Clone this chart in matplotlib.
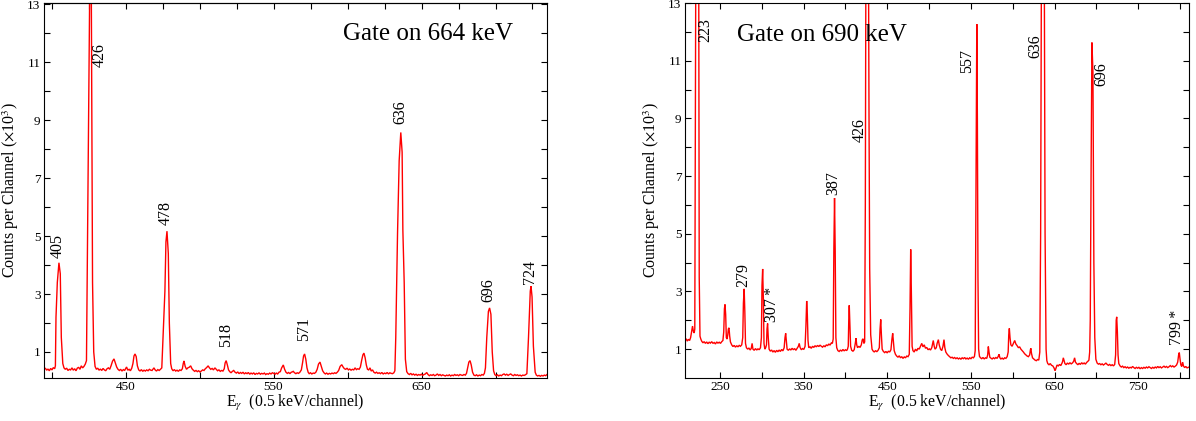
import matplotlib
matplotlib.use("Agg")
import matplotlib.pyplot as plt
from matplotlib.ticker import FixedLocator, NullFormatter

plt.rcParams['font.family'] = ['Liberation Serif', 'DejaVu Serif']
plt.rcParams['mathtext.fontset'] = 'stix'

# Coincidence spectra: (energy in keV, counts per channel in units of 10^3)
gate664_spectrum = [
    (394.9, 0.40), (395.8, 0.44), (396.7, 0.37), (397.6, 0.41), (398.5, 0.35), (399.4, 0.43), (400.3, 0.38),
    (401.2, 0.46), (402.1, 0.42), (402.6, 0.52),
    (403.0, 2.2), (403.9, 3.4), (405.0, 4.08), (405.9, 3.7), (406.6, 1.5), (407.6, 0.6),
    (408.4, 0.45), (409.3, 0.40), (410.2, 0.44), (411.1, 0.36), (412.0, 0.40), (412.9, 0.38), (413.8, 0.45),
    (414.7, 0.37), (415.6, 0.42), (416.5, 0.35), (417.4, 0.44), (418.3, 0.47), (419.2, 0.40), (420.1, 0.52),
    (421.0, 0.45), (421.9, 0.50), (422.8, 0.58), (423.6, 0.70),
    (424.2, 4.1), (424.8, 7.9), (425.5, 11.8), (426.1, 15.5), (426.7, 15.5), (427.1, 10.6), (427.7, 3.4),
    (428.5, 1.0), (429.4, 0.50),
    (430.3, 0.40), (431.2, 0.44), (432.1, 0.37), (433.0, 0.41), (433.9, 0.36), (434.8, 0.43), (435.7, 0.38),
    (436.6, 0.35), (437.5, 0.42), (438.4, 0.45), (439.3, 0.40), (440.2, 0.52), (441.2, 0.68), (442.2, 0.76),
    (443.1, 0.62), (444.0, 0.48), (444.9, 0.40), (445.8, 0.36), (446.7, 0.40), (447.6, 0.34), (448.5, 0.39),
    (449.4, 0.36), (450.0, 0.42), (450.7, 0.48), (451.5, 0.37), (452.4, 0.40), (453.3, 0.35), (454.2, 0.44),
    (455.0, 0.60), (455.7, 0.86), (456.4, 0.93), (457.2, 0.84), (458.0, 0.52), (458.9, 0.38), (459.8, 0.34),
    (460.7, 0.39), (461.6, 0.33), (462.5, 0.37), (463.4, 0.34), (464.3, 0.38), (465.2, 0.35), (466.1, 0.40),
    (467.0, 0.37), (467.9, 0.36), (468.6, 0.41), (469.2, 0.45), (470.0, 0.38), (470.9, 0.34), (471.8, 0.39),
    (472.7, 0.36), (473.6, 0.40), (474.5, 0.45),
    (475.7, 2.0), (476.6, 3.1), (477.3, 4.8), (478.0, 5.17), (478.9, 4.4), (479.6, 2.0), (480.5, 0.6),
    (481.2, 0.42), (482.1, 0.35), (483.0, 0.39), (483.9, 0.34), (484.8, 0.37), (485.7, 0.33), (486.6, 0.38),
    (487.5, 0.36), (488.4, 0.42), (489.0, 0.60), (489.5, 0.69), (490.3, 0.50), (491.2, 0.40), (492.1, 0.45),
    (493.0, 0.47), (494.0, 0.52), (494.9, 0.42), (495.8, 0.37), (496.7, 0.33), (497.6, 0.36), (498.5, 0.32),
    (499.4, 0.35), (500.3, 0.31), (501.2, 0.34), (502.1, 0.38), (503.0, 0.36), (503.9, 0.42), (504.8, 0.46),
    (505.8, 0.52), (506.7, 0.45), (507.6, 0.40), (508.5, 0.43), (509.4, 0.38), (510.4, 0.45), (511.3, 0.40),
    (512.2, 0.35), (513.1, 0.38), (514.0, 0.33), (514.9, 0.36), (515.8, 0.34), (516.7, 0.42), (517.3, 0.62),
    (518.0, 0.70), (518.8, 0.55), (519.6, 0.38), (520.4, 0.32), (521.3, 0.28), (522.2, 0.33), (523.1, 0.36),
    (524.0, 0.30), (524.9, 0.27), (525.8, 0.31), (526.7, 0.25), (527.6, 0.29), (528.5, 0.26), (529.4, 0.30),
    (530.3, 0.24), (531.2, 0.28), (532.1, 0.25), (533.0, 0.29), (533.9, 0.23), (534.8, 0.27), (535.7, 0.24),
    (536.6, 0.28), (537.5, 0.22), (538.4, 0.26), (539.3, 0.24), (540.2, 0.28), (541.1, 0.23), (542.0, 0.26),
    (542.9, 0.24), (543.8, 0.27), (544.7, 0.22), (545.6, 0.25), (546.5, 0.23), (547.4, 0.27), (548.3, 0.24),
    (549.2, 0.28), (550.1, 0.26), (551.0, 0.23), (551.9, 0.27), (552.8, 0.24), (553.7, 0.30), (554.6, 0.32),
    (555.5, 0.45), (556.6, 0.55), (557.5, 0.40), (558.4, 0.30), (559.3, 0.26), (560.2, 0.29), (561.1, 0.25),
    (562.0, 0.30), (562.7, 0.31), (563.3, 0.33), (564.2, 0.28), (565.1, 0.25), (566.0, 0.28), (566.9, 0.26),
    (567.8, 0.30), (568.8, 0.38), (569.6, 0.62), (570.3, 0.86), (571.0, 0.93), (571.8, 0.75), (572.6, 0.45),
    (573.4, 0.30), (574.1, 0.25), (575.0, 0.28), (575.9, 0.24), (576.8, 0.27), (577.7, 0.26), (578.6, 0.30),
    (579.5, 0.40), (580.4, 0.58), (581.4, 0.65), (582.3, 0.50), (583.2, 0.35), (584.1, 0.28), (585.0, 0.24),
    (585.9, 0.27), (586.8, 0.23), (587.7, 0.26), (588.6, 0.24), (589.5, 0.27), (590.4, 0.25), (591.3, 0.28),
    (592.2, 0.26), (593.1, 0.30), (594.0, 0.36), (595.0, 0.50), (596.1, 0.56), (597.0, 0.48), (597.9, 0.42),
    (598.8, 0.40), (599.7, 0.44), (600.6, 0.38), (601.5, 0.41), (602.4, 0.37), (603.3, 0.40), (604.2, 0.38),
    (605.1, 0.45), (606.0, 0.39), (606.9, 0.42), (607.8, 0.40), (608.7, 0.48), (609.6, 0.72), (610.4, 0.90),
    (611.1, 0.96), (611.9, 0.80), (612.7, 0.55), (613.5, 0.40), (614.3, 0.38), (615.2, 0.45), (616.0, 0.34),
    (616.9, 0.38), (617.8, 0.30), (618.7, 0.27), (619.6, 0.30), (620.5, 0.26), (621.4, 0.28), (622.3, 0.25),
    (623.2, 0.29), (624.1, 0.24), (625.0, 0.27), (625.9, 0.25), (626.8, 0.29), (627.7, 0.24), (628.6, 0.28),
    (629.5, 0.26), (630.4, 0.25), (631.3, 0.28), (632.0, 0.35),
    (632.6, 1.5), (633.8, 5.1), (634.9, 7.6), (636.0, 8.58), (636.9, 7.9), (637.4, 5.2), (638.3, 3.4),
    (639.1, 0.75), (640.0, 0.32),
    (640.9, 0.25), (641.8, 0.22), (642.7, 0.26), (643.6, 0.21), (644.5, 0.24), (645.4, 0.20), (646.3, 0.23),
    (647.2, 0.19), (648.1, 0.22), (649.0, 0.20), (649.9, 0.23), (650.8, 0.19), (651.7, 0.22), (652.6, 0.24),
    (653.5, 0.29), (654.4, 0.22), (655.3, 0.18), (656.2, 0.21), (657.1, 0.19), (658.0, 0.22), (658.9, 0.18),
    (659.8, 0.20), (660.7, 0.24), (661.6, 0.19), (662.5, 0.22), (663.4, 0.18), (664.3, 0.21), (665.2, 0.19),
    (666.1, 0.17), (667.0, 0.20), (667.9, 0.18), (668.8, 0.21), (669.7, 0.17), (670.6, 0.20), (671.5, 0.18),
    (672.4, 0.22), (673.3, 0.19), (674.2, 0.21), (675.1, 0.18), (676.0, 0.22), (676.9, 0.20), (677.8, 0.19),
    (678.7, 0.22), (679.6, 0.20), (680.4, 0.26), (681.2, 0.45), (682.0, 0.65), (682.8, 0.70), (683.6, 0.55),
    (684.5, 0.30), (685.4, 0.20), (686.3, 0.18), (687.2, 0.21), (688.1, 0.17), (689.0, 0.20), (689.9, 0.18),
    (690.8, 0.22), (691.7, 0.20), (692.5, 0.26), (693.2, 0.45),
    (694.1, 1.5), (695.2, 2.4), (696.0, 2.52), (696.9, 2.3), (697.8, 1.0), (698.7, 0.35),
    (699.5, 0.22), (700.4, 0.18), (701.3, 0.21), (702.2, 0.17), (703.1, 0.20), (704.0, 0.18), (704.9, 0.22),
    (705.8, 0.24), (706.7, 0.20), (707.6, 0.23), (708.5, 0.19), (709.4, 0.22), (710.3, 0.24), (711.2, 0.20),
    (712.1, 0.18), (713.0, 0.22), (713.9, 0.19), (714.8, 0.21), (715.7, 0.18), (716.6, 0.20), (717.5, 0.17),
    (718.4, 0.20), (719.3, 0.19), (720.2, 0.21), (721.2, 0.25),
    (722.3, 1.5), (723.5, 3.1), (724.0, 3.27), (724.7, 2.9), (725.6, 1.2), (726.8, 0.30),
    (727.6, 0.20), (728.5, 0.17), (729.4, 0.19), (730.3, 0.16), (731.2, 0.19), (732.1, 0.17), (733.0, 0.20),
    (733.9, 0.18), (734.8, 0.22),
]

gate690_spectrum = [
    (208.3, 1.30), (209.6, 1.36), (211.0, 1.28), (212.4, 1.34), (213.8, 1.30), (215.0, 1.40), (216.0, 1.58),
    (217.3, 1.80), (218.3, 1.62), (219.3, 1.56), (220.0, 1.70),
    (220.6, 8.6), (221.4, 16.0), (224.6, 16.0), (225.3, 3.5), (226.2, 1.45),
    (227.2, 1.35), (228.2, 1.28), (229.7, 1.22), (231.2, 1.26), (232.7, 1.20), (234.2, 1.25), (235.7, 1.19),
    (237.2, 1.24), (238.7, 1.21), (240.2, 1.26), (241.7, 1.20), (243.2, 1.23), (244.7, 1.18), (246.2, 1.25),
    (247.7, 1.21), (249.2, 1.24), (250.7, 1.20), (252.2, 1.26), (253.6, 1.30), (254.6, 1.60), (255.4, 2.40),
    (256.1, 2.55), (256.9, 2.20), (257.7, 1.40), (258.6, 1.35), (259.4, 1.50), (260.1, 1.70), (260.9, 1.74),
    (261.7, 1.45), (262.6, 1.25), (264.1, 1.15), (265.6, 1.09), (267.1, 1.13), (268.6, 1.07), (270.1, 1.12),
    (271.6, 1.08), (273.1, 1.13), (274.6, 1.10), (276.1, 1.15), (277.3, 1.40), (278.1, 2.60), (279.0, 3.09),
    (279.8, 2.30), (280.6, 1.20), (281.7, 1.05), (283.2, 1.00), (284.7, 1.04), (286.2, 0.97), (287.5, 1.03),
    (288.5, 1.20), (289.5, 1.00), (291.0, 0.96), (292.5, 1.02), (294.0, 0.97), (295.5, 1.01), (297.0, 0.98),
    (298.5, 1.05), (299.6, 1.40), (300.3, 3.20), (301.1, 3.78), (301.9, 2.80), (302.7, 1.20), (303.7, 1.00),
    (304.7, 1.05), (305.7, 1.15), (306.3, 1.70), (307.0, 1.89), (307.8, 1.40), (308.8, 1.00), (310.3, 0.93),
    (311.8, 0.97), (313.3, 0.90), (314.8, 0.95), (316.3, 0.89), (317.8, 0.96), (319.3, 0.91), (320.8, 0.97),
    (322.3, 0.92), (323.8, 0.99), (325.3, 0.94), (326.8, 1.05), (327.8, 1.40), (328.6, 1.55), (329.4, 1.30),
    (330.3, 1.00), (331.8, 0.96), (333.3, 1.01), (334.8, 0.97), (336.3, 1.03), (337.8, 0.98), (339.3, 1.02),
    (340.8, 0.96), (342.3, 1.03), (343.8, 1.10), (344.8, 1.20), (345.8, 1.06), (347.3, 0.98), (348.8, 1.02),
    (350.3, 0.99), (351.8, 1.10), (352.8, 1.80), (353.7, 2.67), (354.5, 2.20), (355.3, 1.30), (356.2, 1.05),
    (357.7, 1.08), (359.2, 1.03), (360.7, 1.10), (362.2, 1.06), (363.7, 1.12), (365.2, 1.08), (366.7, 1.13),
    (368.2, 1.09), (369.7, 1.14), (371.2, 1.10), (372.7, 1.07), (374.2, 1.12), (375.7, 1.08), (377.2, 1.15),
    (378.7, 1.12), (380.2, 1.18), (381.7, 1.14), (383.2, 1.22), (384.4, 1.20), (385.4, 1.35),
    (386.2, 4.5), (387.0, 6.24), (387.8, 4.4), (388.6, 1.40), (389.6, 1.05),
    (391.0, 0.95), (392.5, 0.92), (394.0, 0.97), (395.5, 0.93), (397.0, 0.99), (398.5, 0.94), (400.0, 0.98),
    (401.5, 0.95), (402.5, 1.00), (403.4, 1.10), (404.0, 2.00), (404.6, 2.52), (405.3, 1.90), (406.2, 1.10),
    (407.5, 0.96), (409.0, 0.93), (410.5, 0.98), (411.8, 1.20), (412.7, 1.38), (413.5, 1.15), (414.5, 1.05),
    (416.0, 1.10), (417.5, 1.06), (419.0, 1.15), (420.1, 1.32), (421.1, 1.36), (422.0, 1.20), (423.0, 1.25),
    (423.8, 6.0), (424.6, 16.0), (427.4, 16.0), (428.2, 9.1), (429.0, 3.8), (430.2, 1.50), (431.8, 1.00),
    (433.0, 0.94), (434.5, 0.90), (436.0, 0.95), (437.5, 0.91), (439.0, 0.96), (440.5, 1.05), (441.4, 1.70),
    (442.2, 2.03), (443.0, 1.50), (443.9, 1.00), (445.4, 0.92), (446.9, 0.88), (448.4, 0.92), (449.9, 0.87),
    (451.4, 0.93), (452.9, 0.90), (454.4, 0.98), (455.6, 1.35), (456.5, 1.55), (457.4, 1.25), (458.3, 0.95),
    (459.8, 0.82), (461.3, 0.76), (462.8, 0.72), (464.3, 0.77), (465.8, 0.70), (467.3, 0.74), (468.8, 0.68),
    (470.3, 0.73), (471.8, 0.70), (473.3, 0.76), (474.8, 0.74), (476.3, 0.82),
    (477.2, 2.40), (478.0, 4.46), (478.8, 3.00), (479.7, 1.10),
    (480.7, 0.95), (482.2, 0.90), (483.7, 1.00), (485.2, 0.94), (486.7, 1.03), (488.2, 1.00), (489.7, 1.10),
    (491.2, 1.20), (492.7, 1.08), (494.2, 1.15), (495.7, 1.03), (497.2, 1.06), (498.7, 0.98), (500.2, 1.01),
    (501.7, 0.97), (503.2, 1.05), (505.0, 1.30), (506.1, 1.10), (507.1, 1.00), (508.6, 1.05), (509.6, 1.20),
    (511.1, 1.33), (512.1, 1.15), (513.6, 1.00), (515.1, 0.95), (516.6, 1.10), (517.8, 1.33), (518.8, 1.05),
    (520.0, 0.90), (521.5, 0.83), (523.0, 0.78), (524.5, 0.74), (526.0, 0.70), (527.5, 0.72), (529.0, 0.68),
    (530.5, 0.71), (532.0, 0.67), (533.5, 0.70), (535.0, 0.66), (536.5, 0.69), (538.0, 0.65), (539.5, 0.70),
    (541.0, 0.67), (542.5, 0.71), (544.0, 0.66), (545.5, 0.69), (547.0, 0.65), (548.5, 0.70), (550.0, 0.67),
    (551.5, 0.72), (553.0, 0.70), (554.2, 0.75),
    (555.1, 0.95), (555.8, 5.2), (556.4, 9.5), (557.0, 12.27), (557.7, 9.0), (558.4, 3.5), (559.2, 1.0),
    (560.2, 0.75), (561.4, 0.70), (562.9, 0.67), (564.4, 0.71), (565.9, 0.66), (567.4, 0.70), (568.9, 0.68),
    (570.0, 0.80), (570.8, 1.09), (571.6, 0.90), (572.6, 0.72), (573.8, 0.69), (575.3, 0.66), (576.8, 0.70),
    (578.3, 0.67), (579.8, 0.71), (581.3, 0.68), (582.6, 0.75), (583.6, 0.82), (584.6, 0.70), (585.8, 0.66),
    (587.3, 0.69), (588.8, 0.65), (590.3, 0.70), (591.8, 0.68), (593.3, 0.74), (594.5, 0.90), (595.2, 1.50),
    (595.9, 1.72), (596.7, 1.40), (597.7, 1.15), (599.2, 1.10), (600.7, 1.20), (602.3, 1.30), (603.7, 1.18),
    (605.2, 1.12), (606.7, 1.05), (608.2, 1.08), (609.7, 1.00), (611.2, 0.95), (612.7, 0.90), (614.2, 0.84),
    (615.7, 0.80), (617.2, 0.76), (618.7, 0.74), (620.2, 0.80), (621.1, 0.98), (621.6, 1.03), (622.4, 0.85),
    (623.6, 0.70), (625.1, 0.66), (626.6, 0.62), (628.1, 0.60), (629.6, 0.64), (631.1, 0.62), (632.3, 0.90),
    (633.3, 5.0), (634.4, 16.0), (637.5, 16.0), (638.6, 5.0), (639.8, 1.00), (640.7, 0.60),
    (641.8, 0.50), (643.3, 0.46), (644.8, 0.50), (646.3, 0.44), (647.8, 0.42), (649.3, 0.35), (650.5, 0.25),
    (651.4, 0.32), (652.9, 0.45), (654.4, 0.42), (655.9, 0.47), (657.4, 0.43), (658.9, 0.52), (659.6, 0.58),
    (660.4, 0.70), (661.3, 0.60), (662.3, 0.50), (663.8, 0.46), (665.3, 0.52), (666.8, 0.48), (668.3, 0.53),
    (669.8, 0.49), (671.3, 0.52), (672.8, 0.58), (673.9, 0.70), (674.9, 0.55), (676.3, 0.50), (677.8, 0.46),
    (679.3, 0.51), (680.8, 0.47), (682.3, 0.53), (683.8, 0.49), (685.3, 0.52), (686.8, 0.48), (688.3, 0.54),
    (689.8, 0.58), (691.0, 0.62), (691.9, 0.90),
    (692.6, 2.0), (693.6, 7.2), (694.6, 11.63), (695.8, 10.6), (696.9, 4.0), (698.0, 1.40), (699.3, 0.65),
    (700.8, 0.52), (702.3, 0.48), (703.8, 0.50), (705.3, 0.46), (706.8, 0.49), (708.3, 0.45), (709.8, 0.48),
    (711.3, 0.52), (712.8, 0.47), (714.3, 0.44), (715.8, 0.47), (717.3, 0.43), (718.8, 0.46), (720.3, 0.42),
    (721.8, 0.47), (722.9, 0.80), (723.6, 2.00), (724.2, 2.12), (725.0, 1.60), (725.8, 0.80), (726.7, 0.50),
    (728.2, 0.42), (729.7, 0.38), (731.2, 0.41), (732.7, 0.36), (734.2, 0.39), (735.7, 0.35), (737.2, 0.38),
    (738.7, 0.34), (740.2, 0.37), (741.7, 0.35), (743.2, 0.40), (744.7, 0.36), (746.2, 0.33), (747.7, 0.37),
    (749.2, 0.34), (750.7, 0.37), (752.2, 0.32), (753.7, 0.36), (755.2, 0.33), (756.7, 0.37), (758.2, 0.34),
    (759.7, 0.38), (761.2, 0.35), (762.7, 0.39), (764.2, 0.36), (765.7, 0.33), (767.2, 0.37), (768.7, 0.34),
    (770.2, 0.38), (771.7, 0.35), (773.2, 0.40), (774.7, 0.36), (776.2, 0.39), (777.7, 0.35), (779.2, 0.38),
    (780.7, 0.41), (782.2, 0.37), (783.7, 0.40), (785.2, 0.36), (786.7, 0.39), (788.2, 0.43), (789.7, 0.39),
    (791.2, 0.42), (792.7, 0.38), (794.2, 0.41), (795.7, 0.45), (797.1, 0.55), (798.2, 0.80), (799.0, 0.88),
    (799.9, 0.65), (800.9, 0.45), (801.9, 0.40), (803.0, 0.55), (804.0, 0.42), (805.3, 0.36), (806.8, 0.40),
    (808.3, 0.35), (810.6, 0.38),
]

# Peak labels: (text, x in keV, bottom of label in 10^3 counts)
gate664_labels = [
    ("405", 404.5, 4.26), ("426", 432.7, 10.84), ("478", 477.3, 5.40), ("518", 517.9, 1.18),
    ("571", 570.6, 1.37), ("636", 635.5, 8.87), ("696", 695.4, 2.74), ("724", 723.3, 3.36),
]
gate690_labels = [
    ("223", 232.2, 11.65), ("279", 278.0, 3.14), ("307\u2009*", 311.9, 1.94), ("387", 385.5, 6.36),
    ("426", 416.6, 8.18), ("557", 544.9, 10.58), ("636", 626.6, 11.10), ("696", 706.3, 10.14),
    ("799\u2009*", 795.9, 1.15),
]

gate664_xlim = (394.9, 734.8)
gate690_xlim = (208.3, 810.6)
gate664_ylim = (0.1, 13.05)
gate690_ylim = (0.0, 13.0)

y_major = [1, 3, 5, 7, 9, 11, 13]
y_minor = [2, 4, 6, 8, 10, 12]
gate664_xmajor = [450, 550, 650]
gate664_xminor = [400, 500, 600, 700]
gate664_xtop = [400, 425, 450, 475, 500, 525, 550, 575, 600, 625, 650, 675, 700, 725]
gate690_xmajor = [250, 350, 450, 550, 650, 750]
gate690_xminor = [300, 400, 500, 600, 700, 800]

W, H = 1196, 421
fig = plt.figure(figsize=(W / 100, H / 100), dpi=100)

ylabel = r'Counts per Channel ($\times$10$^{3}$)'
xlabel = r'E$_{\gamma}$  (0.5 keV/channel)'
tick_kw = dict(which='both', direction='in', length=4, width=0.8, labelsize=9.5, pad=2.5)


def draw_panel(ax, spectrum, labels, xlim, ylim, xmajor, xminor, top_ticks=None):
    e = [p[0] for p in spectrum]
    c = [p[1] for p in spectrum]
    ax.plot(e, c, color='#ff0000', lw=1.0, solid_joinstyle='miter')
    ax.set_xlim(*xlim)
    ax.set_ylim(*ylim)
    ax.yaxis.set_major_locator(FixedLocator(y_major))
    ax.yaxis.set_minor_locator(FixedLocator(y_minor))
    ax.xaxis.set_major_locator(FixedLocator(xmajor))
    ax.xaxis.set_minor_locator(FixedLocator(xminor))
    ax.xaxis.set_minor_formatter(NullFormatter())
    ax.tick_params(right=True, top=top_ticks is None, **tick_kw)
    if top_ticks is not None:
        sec = ax.secondary_xaxis('top')
        sec.xaxis.set_major_locator(FixedLocator(top_ticks))
        sec.xaxis.set_major_formatter(NullFormatter())
        sec.tick_params(direction='in', length=4, width=0.8)
    for sp in ax.spines.values():
        sp.set_linewidth(0.8)
    ax.set_ylabel(ylabel, fontsize=11.5)
    ax.set_xlabel(xlabel, fontsize=11.3)
    ax.yaxis.set_label_coords(-0.046, 0.5)
    ax.xaxis.set_label_coords(0.5, -0.04)
    for txt, x, y in labels:
        ax.text(x, y, txt, rotation=90, ha='center', va='bottom', fontsize=11.5)
    return ax


ax1 = fig.add_axes([44 / W, 43 / H, 503 / W, 375 / H])
draw_panel(ax1, gate664_spectrum, gate664_labels, gate664_xlim, gate664_ylim,
           gate664_xmajor, gate664_xminor, top_ticks=gate664_xtop)
ax1.text(0.594, 0.917, "Gate on 664 keV", transform=ax1.transAxes, ha='left', va='center', fontsize=18)

ax2 = fig.add_axes([685 / W, 43 / H, 504 / W, 375 / H])
draw_panel(ax2, gate690_spectrum, gate690_labels, gate690_xlim, gate690_ylim,
           gate690_xmajor, gate690_xminor)
ax2.text(0.1026, 0.915, "Gate on 690 keV", transform=ax2.transAxes, ha='left', va='center', fontsize=18)

fig.savefig("out.png", dpi=100)
